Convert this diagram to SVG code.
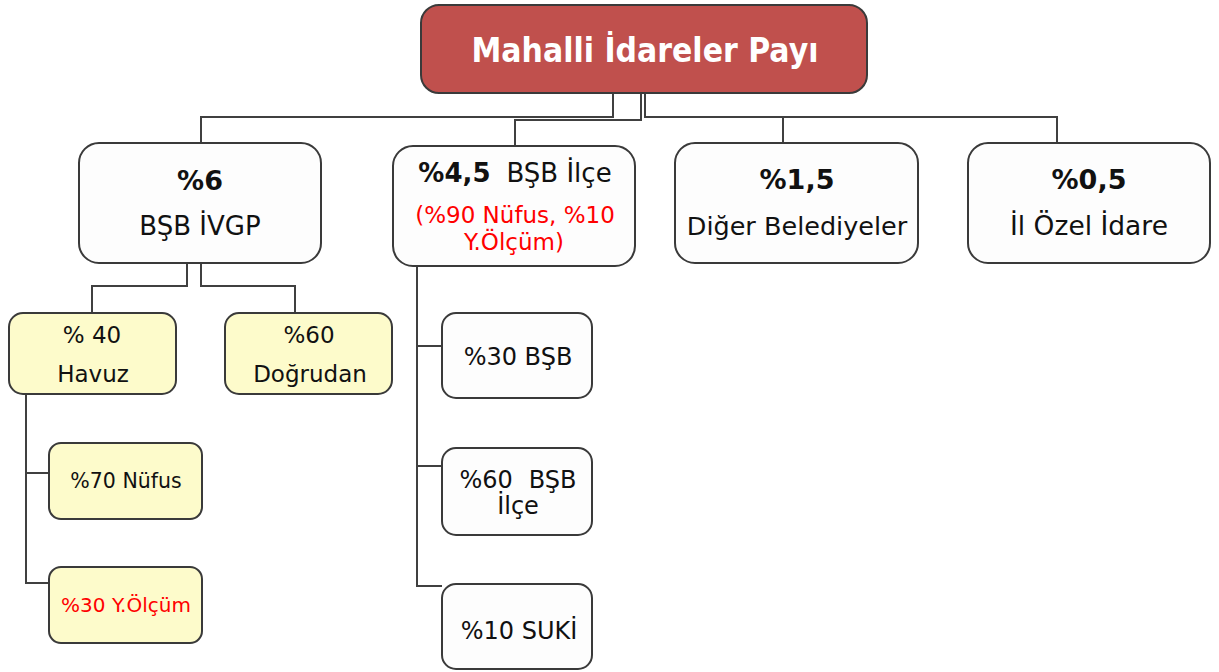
<svg xmlns="http://www.w3.org/2000/svg" width="1219" height="672" viewBox="0 0 1219 672">
<style>
.box{fill:#fdfdfd;stroke:#3a3a3a;stroke-width:2}
.yel{fill:#fdfbcb;stroke:#3a3a3a;stroke-width:2}
.root{fill:#c0504d;stroke:#3a3a3a;stroke-width:2}
.con{fill:none;stroke:#404040;stroke-width:2}
text{font-family:"DejaVu Sans","Liberation Sans",sans-serif;fill:#111;text-anchor:middle}
.b{font-weight:bold}
.red{fill:#ff0000}
</style>
<rect width="1219" height="672" fill="#ffffff"/>
<g id="connectors">
<path class="con" d="M613,93 V117 H201 V143"/>
<path class="con" d="M641,93 V120 H515 V146"/>
<path class="con" d="M645,93 V117 H1057 V143 M783,117 V143"/>
<path class="con" d="M187,263 V286 H92 V313"/>
<path class="con" d="M201,263 V286 H295 V313"/>
<path class="con" d="M26,394 V583 H49 M26,473 H49"/>
<path class="con" d="M417,267 V586 H442 M417,346 H442 M417,466 H442"/>
</g>
<g id="root">
<rect class="root" x="421" y="5" width="446" height="88" rx="18"/>
<text x="645" y="62" class="b" style="fill:#ffffff;font-size:33px" textLength="347" lengthAdjust="spacingAndGlyphs">Mahalli İdareler Payı</text>
</g>
<g id="n-bsb-ivgp">
<rect class="box" x="79" y="143" width="242" height="120" rx="20"/>
<text x="200" y="190" class="b" style="font-size:27px">%6</text>
<text x="200" y="235" style="font-size:26px">BŞB İVGP</text>
</g>
<g id="n-bsb-ilce">
<rect class="box" x="393" y="146" width="242" height="120" rx="20"/>
<text x="515" y="182" style="font-size:26px"><tspan class="b">%4,5</tspan><tspan dx="16">BŞB İlçe</tspan></text>
<text x="515" y="223" class="red" style="font-size:23px">(%90 Nüfus, %10</text>
<text x="514" y="250" class="red" style="font-size:23px">Y.Ölçüm)</text>
</g>
<g id="n-diger">
<rect class="box" x="675" y="143" width="243" height="120" rx="20"/>
<text x="797" y="189" class="b" style="font-size:27px">%1,5</text>
<text x="797" y="235" style="font-size:25.5px">Diğer Belediyeler</text>
</g>
<g id="n-ozel">
<rect class="box" x="968" y="143" width="242" height="120" rx="20"/>
<text x="1089" y="189" class="b" style="font-size:27px">%0,5</text>
<text x="1089" y="235" style="font-size:26.5px">İl Özel İdare</text>
</g>
<g id="n-havuz">
<rect class="yel" x="9" y="313" width="167" height="81" rx="14"/>
<text x="92" y="343" style="font-size:23px">% 40</text>
<text x="93" y="382" style="font-size:23px">Havuz</text>
</g>
<g id="n-dogrudan">
<rect class="yel" x="225" y="313" width="167" height="81" rx="14"/>
<text x="309" y="343" style="font-size:23px">%60</text>
<text x="310" y="382" style="font-size:23px">Doğrudan</text>
</g>
<g id="n-nufus">
<rect class="yel" x="49" y="443" width="153" height="76" rx="12"/>
<text x="126" y="488" style="font-size:20.5px">%70 Nüfus</text>
</g>
<g id="n-yolcum">
<rect class="yel" x="49" y="567" width="153" height="76" rx="12"/>
<text x="126" y="612" class="red" style="font-size:20px">%30 Y.Ölçüm</text>
</g>
<g id="n-30bsb">
<rect class="box" x="442" y="313" width="150" height="85" rx="14"/>
<text x="518" y="365" style="font-size:24px">%30 BŞB</text>
</g>
<g id="n-60bsb">
<rect class="box" x="442" y="448" width="150" height="87" rx="14"/>
<text x="518" y="488" style="font-size:24px"><tspan>%60</tspan><tspan dx="16">BŞB</tspan></text>
<text x="518" y="514" style="font-size:24px">İlçe</text>
</g>
<g id="n-suki">
<rect class="box" x="442" y="584" width="150" height="85" rx="14"/>
<text x="519" y="639" style="font-size:24px">%10 SUKİ</text>
</g>
</svg>
